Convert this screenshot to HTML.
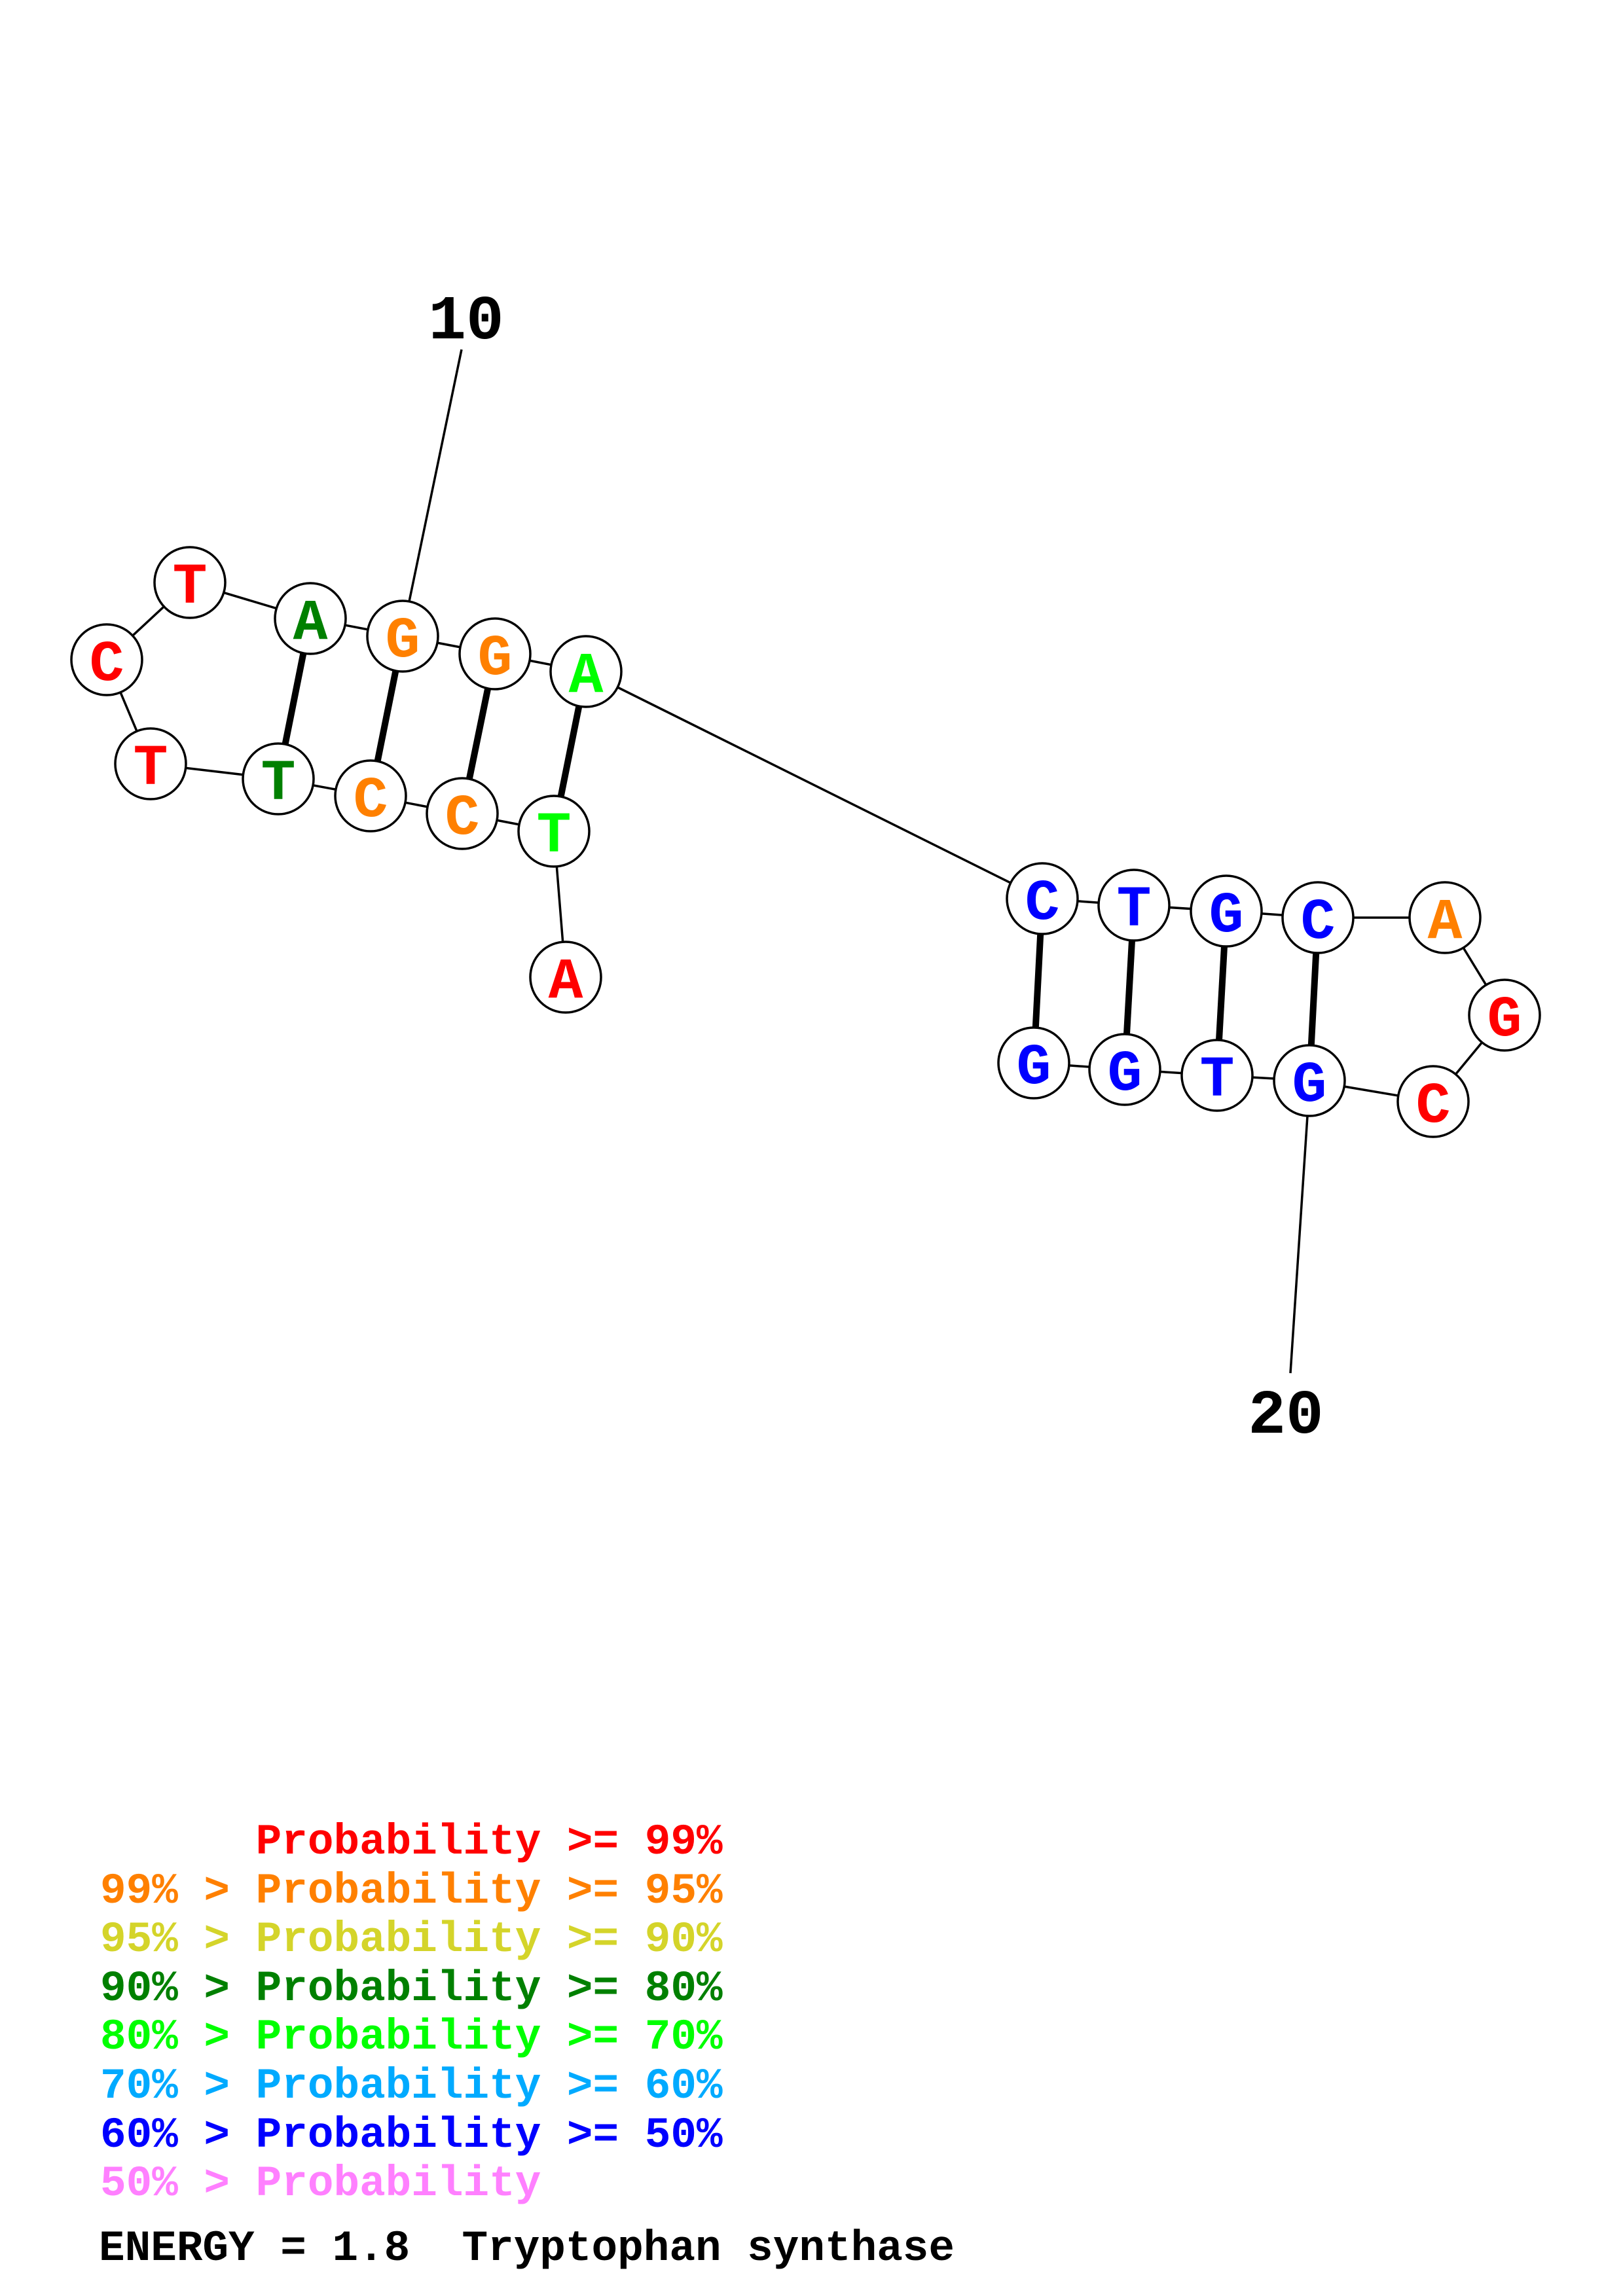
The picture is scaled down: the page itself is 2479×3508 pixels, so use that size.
<!DOCTYPE html>
<html><head><meta charset="utf-8"><style>
html,body{margin:0;padding:0;background:#fff;}
svg{display:block;}
.pre{white-space:pre;}
</style></head><body>
<svg width="2479" height="3508" viewBox="0 0 2479 3508" xmlns="http://www.w3.org/2000/svg">
<rect width="2479" height="3508" fill="#fff"/>
<g stroke="#000" stroke-width="3.5" fill="none">
<polyline points="864,1493 846,1270 706,1243 566,1216 425,1190 230,1167 163,1008 290,890 474,945 615,972 756,999 895,1026 1592,1373 1732,1383 1873,1392 2013,1402 2207,1402 2298,1551 2189,1683 2000,1651 1859,1643 1718,1634 1579,1624"/>
<line x1="705" y1="534" x2="625" y2="919"/>
<line x1="1997" y1="1705" x2="1971" y2="2098"/>
</g>
<g stroke="#000" stroke-width="10">
<line x1="474" y1="945" x2="425" y2="1190"/>
<line x1="615" y1="972" x2="566" y2="1216"/>
<line x1="756" y1="999" x2="706" y2="1243"/>
<line x1="895" y1="1026" x2="846" y2="1270"/>
<line x1="1592" y1="1373" x2="1579" y2="1624"/>
<line x1="1732" y1="1383" x2="1718" y2="1634"/>
<line x1="1873" y1="1392" x2="1859" y2="1643"/>
<line x1="2013" y1="1402" x2="2000" y2="1651"/>
</g>
<g stroke="#000" stroke-width="3.5" fill="#fff">
<circle cx="290" cy="890" r="54"/><circle cx="163" cy="1008" r="54"/><circle cx="230" cy="1167" r="54"/>
<circle cx="474" cy="945" r="54"/><circle cx="615" cy="972" r="54"/><circle cx="756" cy="999" r="54"/><circle cx="895" cy="1026" r="54"/>
<circle cx="425" cy="1190" r="54"/><circle cx="566" cy="1216" r="54"/><circle cx="706" cy="1243" r="54"/><circle cx="846" cy="1270" r="54"/>
<circle cx="864" cy="1493" r="54"/>
<circle cx="1592" cy="1373" r="54"/><circle cx="1732" cy="1383" r="54"/><circle cx="1873" cy="1392" r="54"/><circle cx="2013" cy="1402" r="54"/>
<circle cx="2207" cy="1402" r="54"/><circle cx="2298" cy="1551" r="54"/><circle cx="2189" cy="1683" r="54"/>
<circle cx="2000" cy="1651" r="54"/><circle cx="1859" cy="1643" r="54"/><circle cx="1718" cy="1634" r="54"/><circle cx="1579" cy="1624" r="54"/>
</g>
<g font-family="'Liberation Mono', monospace" font-weight="bold" font-size="88" text-anchor="middle">
<text x="290" y="921" fill="#ff0000">T</text>
<text x="163" y="1039" fill="#ff0000">C</text>
<text x="230" y="1198" fill="#ff0000">T</text>
<text x="474" y="976" fill="#008000">A</text>
<text x="615" y="1003" fill="#ff8000">G</text>
<text x="756" y="1030" fill="#ff8000">G</text>
<text x="895" y="1057" fill="#00ff00">A</text>
<text x="425" y="1221" fill="#008000">T</text>
<text x="566" y="1247" fill="#ff8000">C</text>
<text x="706" y="1274" fill="#ff8000">C</text>
<text x="846" y="1301" fill="#00ff00">T</text>
<text x="864" y="1524" fill="#ff0000">A</text>
<text x="1592" y="1404" fill="#0000ff">C</text>
<text x="1732" y="1414" fill="#0000ff">T</text>
<text x="1873" y="1423" fill="#0000ff">G</text>
<text x="2013" y="1433" fill="#0000ff">C</text>
<text x="2207" y="1433" fill="#ff8000">A</text>
<text x="2298" y="1582" fill="#ff0000">G</text>
<text x="2189" y="1714" fill="#ff0000">C</text>
<text x="2000" y="1682" fill="#0000ff">G</text>
<text x="1859" y="1674" fill="#0000ff">T</text>
<text x="1718" y="1665" fill="#0000ff">G</text>
<text x="1579" y="1655" fill="#0000ff">G</text>
</g>
<g font-family="'Liberation Mono', monospace" font-weight="bold" font-size="96" text-anchor="middle" fill="#000">
<text x="712" y="517">10</text>
<text x="1964" y="2189">20</text>
</g>
<g font-family="'Liberation Mono', monospace" font-weight="bold" font-size="66" class="pre">
<text class="pre" x="153" y="2832" fill="#ff0000">      Probability &gt;= 99%</text>
<text class="pre" x="153" y="2907" fill="#ff8000">99% &gt; Probability &gt;= 95%</text>
<text class="pre" x="153" y="2981" fill="#d4d42a">95% &gt; Probability &gt;= 90%</text>
<text class="pre" x="153" y="3056" fill="#008000">90% &gt; Probability &gt;= 80%</text>
<text class="pre" x="153" y="3130" fill="#00ff00">80% &gt; Probability &gt;= 70%</text>
<text class="pre" x="153" y="3205" fill="#00aaff">70% &gt; Probability &gt;= 60%</text>
<text class="pre" x="153" y="3280" fill="#0000ff">60% &gt; Probability &gt;= 50%</text>
<text class="pre" x="153" y="3354" fill="#ff80ff">50% &gt; Probability</text>
<text class="pre" x="151" y="3453" fill="#000">ENERGY = 1.8  Tryptophan synthase</text>
</g>
</svg>
</body></html>
